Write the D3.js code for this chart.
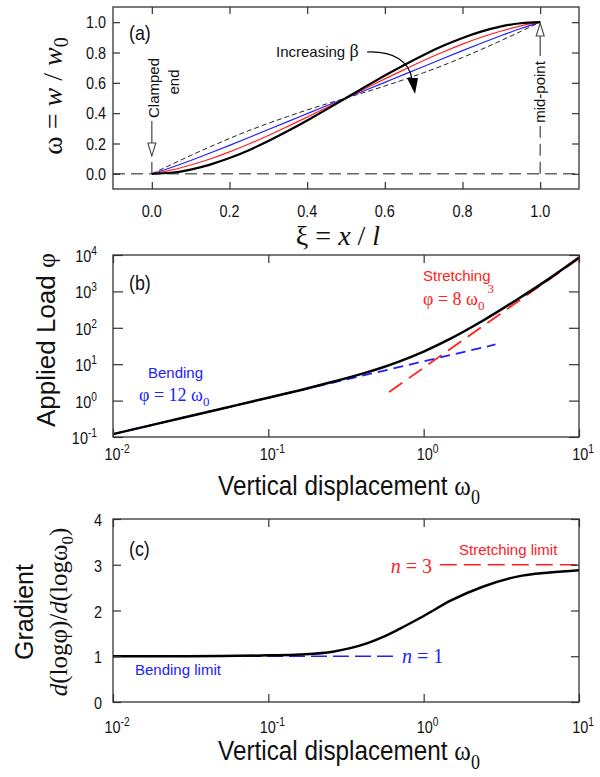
<!DOCTYPE html>
<html><head><meta charset="utf-8">
<script src="https://cdn.jsdelivr.net/npm/d3@7"></script>
<style>body{margin:0;background:#fff}svg{display:block}</style>
</head><body>
<svg id="c" width="600" height="777"></svg>
<script>
// ---------- DATA ----------
// Panel (a): deflection profiles
const xi = [0,0.05,0.1,0.15,0.2,0.25,0.3,0.35,0.4,0.45,0.5,0.55,0.6,0.65,0.7,0.75,0.8,0.85,0.9,0.95,1.0];
const profileBlack  = [0,0.007,0.028,0.061,0.104,0.156,0.216,0.282,0.352,0.425,0.5,0.575,0.648,0.718,0.784,0.844,0.896,0.939,0.972,0.993,1.0];
const profileRed    = [0,0.024,0.058,0.098,0.145,0.197,0.253,0.313,0.374,0.437,0.5,0.563,0.626,0.687,0.747,0.803,0.855,0.902,0.942,0.976,1.0];
const profileBlue   = [0,0.042,0.088,0.137,0.188,0.240,0.292,0.344,0.397,0.449,0.5,0.551,0.603,0.656,0.708,0.760,0.812,0.863,0.912,0.958,1.0];
const profileDashed = [0,0.061,0.121,0.178,0.233,0.285,0.333,0.378,0.421,0.461,0.5,0.539,0.579,0.622,0.667,0.715,0.767,0.822,0.879,0.939,1.0];
const xTicksA = [0,0.2,0.4,0.6,0.8,1.0];
const yTicksA = [0,0.2,0.4,0.6,0.8,1.0];

// Panel (b): load vs displacement
const omega0  = [0.01,0.03,0.05,0.1,0.16,0.26,0.43,0.53,0.7,1.0,1.5,2.4,4.0,6.5,10];
const loadPhi = [0.12,0.36,0.60,1.20,1.93,3.28,5.96,7.89,12.0,22.3,51.2,156,598,2317,8500];
const bendOmega = [0.01,2.9];
const bendPhi = [0.12,34.8];
const stretchOmega = [0.6,10];
const stretchPhi = [1.73,8000];
const decadesX = [0.01,0.1,1,10];
const decadesY = [0.1,1,10,100,1000,10000];
const expX = ["-2","-1","0","1"];
const expY = ["-1","0","1","2","3","4"];

// Panel (c): gradient
const omegaG = [0.01,0.03,0.1,0.16,0.26,0.43,0.53,0.7,1.0,1.5,2.4,4.0,6.5,10];
const gradN  = [1.0,1.0,1.02,1.04,1.10,1.28,1.40,1.60,1.88,2.22,2.52,2.74,2.83,2.88];
const bendLimitOmega = [0.01,0.69];
const bendLimitN = [1,1];
const stretchLimitOmega = [1.27,10];
const stretchLimitN = [3,3];
const yTicksC = [0,1,2,3,4];

// ---------- HELPERS ----------
const SANS = "'Liberation Sans', Arial, Helvetica, sans-serif";
const SERIF = "'Liberation Serif', 'Times New Roman', Times, serif";
const RED = "#ff2020", BLUE = "#2020ff";
const svg = d3.select('#c');

function txt(parent, x, y, parts, o = {}) {
  const g = parent.append('g')
    .attr('transform', `translate(${x},${y}) rotate(${o.rot || 0}) scale(${o.sx || 1},1)`);
  const t = g.append('text')
    .attr('text-anchor', o.anchor || 'start')
    .attr('font-family', o.font || SANS)
    .attr('font-size', o.size || 16)
    .attr('fill', o.color || '#111');
  if (o.dy) t.attr('dy', o.dy);
  parts.forEach(p => {
    if (typeof p === 'string') p = { t: p };
    const ts = t.append('tspan').text(p.t);
    if (p.i) ts.attr('font-style', 'italic');
    if (p.f) ts.attr('font-family', p.f);
    if (p.s) ts.attr('font-size', p.s);
    if (p.dy) ts.attr('dy', p.dy);
    if (p.dx) ts.attr('dx', p.dx);
  });
  return t;
}

function frame(x0, x1, y0, y1) {
  svg.append('rect').attr('x', x0).attr('y', y0).attr('width', x1 - x0).attr('height', y1 - y0)
    .attr('fill', 'none').attr('stroke', '#333').attr('stroke-width', 1.3);
}

function ticks(xs, ys, xv, yv, xlen, ylen) {
  const [x0, x1] = xs.range(), [y0, y1] = ys.range();
  const rm = g => { g.select('.domain').remove(); g.selectAll('line').attr('stroke', '#333').attr('stroke-width', 1.2); };
  svg.append('g').attr('transform', `translate(0,${y0})`).call(d3.axisBottom(xs).tickValues(xv).tickSize(-xlen).tickFormat('')).call(rm);
  svg.append('g').attr('transform', `translate(0,${y1})`).call(d3.axisTop(xs).tickValues(xv).tickSize(-xlen).tickFormat('')).call(rm);
  svg.append('g').attr('transform', `translate(${x0},0)`).call(d3.axisLeft(ys).tickValues(yv).tickSize(-ylen).tickFormat('')).call(rm);
  svg.append('g').attr('transform', `translate(${x1},0)`).call(d3.axisRight(ys).tickValues(yv).tickSize(-ylen).tickFormat('')).call(rm);
}

function path(xs, ys, X, Y, stroke, w, dash, curve) {
  const line = d3.line().x(d => xs(d[0])).y(d => ys(d[1])).curve(curve || d3.curveLinear);
  const p = svg.append('path').datum(X.map((v, i) => [v, Y[i]]))
    .attr('d', line).attr('fill', 'none').attr('stroke', stroke).attr('stroke-width', w)
    .attr('stroke-linejoin', 'round');
  if (dash) p.attr('stroke-dasharray', dash);
  return p;
}

// ---------- PANEL (a) ----------
const xA = d3.scaleLinear().domain([-0.1, 1.1]).range([113, 579]);
const yA = d3.scaleLinear().domain([-0.1, 1.1]).range([189, 7]);

path(xA, yA, [-0.1, 1.1], [0, 0], '#666', 1.5, '12,6');
svg.append('line').attr('x1', xA(1)).attr('x2', xA(1)).attr('y1', yA(0)).attr('y2', 126)
  .attr('stroke', '#444').attr('stroke-width', 1.2).attr('stroke-dasharray', '12,6');
svg.append('line').attr('x1', xA(1)).attr('x2', xA(1)).attr('y1', 56).attr('y2', 36)
  .attr('stroke', '#444').attr('stroke-width', 1.2);
svg.append('path').attr('d', `M${xA(1) - 4},36 L${xA(1) + 4},36 L${xA(1)},${yA(1) + 1} Z`)
  .attr('fill', '#fff').attr('stroke', '#444').attr('stroke-width', 1.1);
txt(svg, xA(1), 92, ['mid-point'], { rot: -90, anchor: 'middle', size: 15, dy: '0.35em' });
svg.append('line').attr('x1', xA(0)).attr('x2', xA(0)).attr('y1', 121).attr('y2', 143)
  .attr('stroke', '#444').attr('stroke-width', 1.2);
svg.append('path').attr('d', `M${xA(0) - 4},143 L${xA(0) + 4},143 L${xA(0)},156 Z`)
  .attr('fill', '#fff').attr('stroke', '#444').attr('stroke-width', 1.1);
svg.append('line').attr('x1', xA(0)).attr('x2', xA(0)).attr('y1', 162).attr('y2', yA(0))
  .attr('stroke', '#444').attr('stroke-width', 1.2);
txt(svg, xA(0) + 2, 88, ['Clamped'], { rot: -90, anchor: 'middle', size: 15, dy: '0.35em' });
txt(svg, xA(0) + 22, 82, ['end'], { rot: -90, anchor: 'middle', size: 15, dy: '0.35em' });

path(xA, yA, xi, profileDashed, '#222', 1, '5,3', d3.curveNatural);
path(xA, yA, xi, profileBlue, BLUE, 1.2, null, d3.curveNatural);
path(xA, yA, xi, profileRed, RED, 1.2, null, d3.curveNatural);
path(xA, yA, xi, profileBlack, '#000', 2.2, null, d3.curveNatural);

svg.append('path').attr('d', 'M367,52 C395,51 409,62 412,79').attr('fill', 'none').attr('stroke', '#000').attr('stroke-width', 1.2);
svg.append('path').attr('d', 'M407,78 L418,78 L415,94 Z').attr('fill', '#000');
txt(svg, 276, 57, ['Increasing ', { t: 'β', f: SERIF, s: 18 }], { size: 15 });

frame(113, 579, 7, 189);
ticks(xA, yA, xTicksA, yTicksA, 7, 7);

yTicksA.forEach(v => txt(svg, 106, yA(v) + 6, [d3.format('.1f')(v)], { anchor: 'end', size: 17, sx: 0.85 }));
xTicksA.forEach(v => txt(svg, xA(v), 217, [d3.format('.1f')(v)], { anchor: 'middle', size: 17, sx: 0.85 }));
txt(svg, 338, 245, ['ξ = ', { t: 'x', i: 1 }, ' / ', { t: 'l', i: 1 }], { anchor: 'middle', size: 28, font: SERIF });
txt(svg, 62, 96, ['ω = ', { t: 'w', i: 1 }, ' / ', { t: 'w', i: 1 }, { t: '0', s: 20, dy: 6 }], { rot: -90, anchor: 'middle', size: 28, font: SERIF });
txt(svg, 129, 40, ['(a)'], { size: 21, sx: 0.85 });

// ---------- PANEL (b) ----------
const xB = d3.scaleLog().domain([0.01, 10]).range([113, 579]);
const yB = d3.scaleLog().domain([0.1, 10000]).range([437, 255]);

path(xB, yB, bendOmega, bendPhi, BLUE, 1.8, '10,6');
path(xB, yB, stretchOmega, stretchPhi, RED, 1.8, '16,8');
path(xB, yB, omega0, loadPhi, '#000', 2.5, null, d3.curveMonotoneX);

frame(113, 579, 255, 437);
ticks(xB, yB, decadesX, decadesY, 8, 10);

decadesY.forEach((v, i) => txt(svg, 97, yB(v) + 7, ['10', { t: expY[i], s: 12, dy: -7 }], { anchor: 'end', size: 17, sx: 0.85 }));
decadesX.forEach((v, i) => txt(svg, xB(v) + 4, 460, ['10', { t: expX[i], s: 12, dy: -7 }], { anchor: 'middle', size: 17, sx: 0.85 }));
txt(svg, 349, 495, ['Vertical displacement ', { t: 'ω', f: SERIF, s: 28 }, { t: '0', f: SERIF, s: 20, dy: 9 }], { anchor: 'middle', size: 27, sx: 0.9 });
txt(svg, 55, 340, ['Applied Load ', { t: 'φ', f: SERIF }], { rot: -90, anchor: 'middle', size: 26 });
txt(svg, 129, 290, ['(b)'], { size: 21, sx: 0.85 });

txt(svg, 148, 378, ['Bending'], { size: 15, color: BLUE });
txt(svg, 139, 401, ['φ = 12 ω', { t: '0', s: 13, dy: 5 }], { size: 18, font: SERIF, color: BLUE });
txt(svg, 423, 281, ['Stretching'], { size: 15, color: RED });
txt(svg, 423, 305, ['φ = 8 ω', { t: '0', s: 13, dy: 5 }, { t: '3', s: 13, dy: -17, dx: 3 }], { size: 18, font: SERIF, color: RED });

// ---------- PANEL (c) ----------
const xC = d3.scaleLog().domain([0.01, 10]).range([113, 579]);
const yC = d3.scaleLinear().domain([0, 4]).range([702, 519]);

path(xC, yC, bendLimitOmega, bendLimitN, BLUE, 1.6, '16,6');
path(xC, yC, stretchLimitOmega, stretchLimitN, RED, 1.6, '17,7');
path(xC, yC, omegaG, gradN, '#000', 2.5, null, d3.curveMonotoneX);

frame(113, 579, 519, 702);
ticks(xC, yC, decadesX, yTicksC, 8, 8);

yTicksC.forEach(v => txt(svg, 102, yC(v) + 7, [String(v)], { anchor: 'end', size: 17, sx: 0.85 }));
decadesX.forEach((v, i) => txt(svg, xC(v) + 4, 733, ['10', { t: expX[i], s: 12, dy: -7 }], { anchor: 'middle', size: 17, sx: 0.85 }));
txt(svg, 349, 760, ['Vertical displacement ', { t: 'ω', f: SERIF, s: 28 }, { t: '0', f: SERIF, s: 20, dy: 9 }], { anchor: 'middle', size: 27, sx: 0.9 });
txt(svg, 33, 612, ['Gradient'], { rot: -90, anchor: 'middle', size: 25 });
txt(svg, 67, 612, [{ t: 'd', i: 1 }, '(logφ)/', { t: 'd', i: 1 }, '(logω', { t: '0', s: 17, dy: 6 }, { t: ')', dy: -6 }], { rot: -90, anchor: 'middle', size: 25, font: SERIF });
txt(svg, 129, 556, ['(c)'], { size: 21, sx: 0.85 });

txt(svg, 459, 555, ['Stretching limit'], { size: 15, color: RED });
txt(svg, 135, 675, ['Bending limit'], { size: 15, color: BLUE });
txt(svg, 432, 573, [{ t: 'n', i: 1 }, ' = 3'], { anchor: 'end', size: 20, font: SERIF, color: RED });
txt(svg, 402, 663, [{ t: 'n', i: 1 }, ' = 1'], { size: 20, font: SERIF, color: BLUE });
</script>
</body></html>
